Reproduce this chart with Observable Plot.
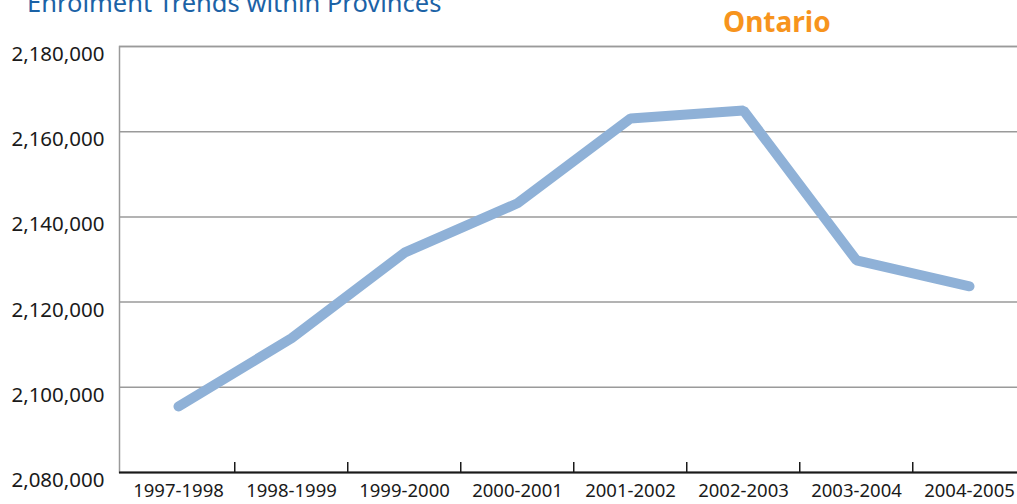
<!DOCTYPE html>
<html>
<head>
<meta charset="utf-8">
<script src="https://cdn.jsdelivr.net/npm/d3@7"></script>
<script src="https://cdn.jsdelivr.net/npm/@observablehq/plot@0.6"></script>
<style>
  html, body { margin: 0; padding: 0; background: #fff; overflow: hidden; }
  #wrap { position: relative; width: 1017px; height: 504px; overflow: hidden; }
  #chart svg { max-width: none !important; }
  #title { position: absolute; left: 27px; top: -11px; font-family: "Noto Sans", sans-serif; font-size: 25.5px; line-height: 26px; color: #1b62a6; white-space: nowrap; }
  #prov { position: absolute; left: 723px; top: 7px; font-family: "Noto Sans", sans-serif; font-weight: 700; font-size: 28px; line-height: 28px; color: #f7941d; white-space: nowrap; }
</style>
</head>
<body>
<div id="wrap">
  <div id="chart"></div>
  <div id="title">Enrolment Trends within Provinces</div>
  <div id="prov">Ontario</div>
</div>
<script>
const years = ["1997-1998", "1998-1999", "1999-2000", "2000-2001", "2001-2002", "2002-2003", "2003-2004", "2004-2005"];
const enrolment = [2095500, 2111500, 2131600, 2143200, 2163100, 2165000, 2129800, 2123700];
const yTicks = [2080000, 2100000, 2120000, 2140000, 2160000, 2180000];

const data = years.map((year, i) => ({year, value: enrolment[i]}));

const W = 1030, ML = 119, MR = 3;
const step = (W - ML - MR) / years.length;

const chart = Plot.plot({
  width: W,
  height: 504,
  marginTop: 46,
  marginBottom: 32,
  marginLeft: ML,
  marginRight: MR,
  style: {fontFamily: "Noto Sans, sans-serif", background: "white", overflow: "visible", maxWidth: "none"},
  x: {type: "point", domain: years, padding: 0.5},
  y: {domain: [2080000, 2180000]},
  marks: [
    Plot.gridY(yTicks, {stroke: "#9a9a9a", strokeOpacity: 1, strokeWidth: 1.5}),
    Plot.frame({stroke: "#9a9a9a", strokeWidth: 1.5}),
    Plot.ruleY([2080000], {stroke: "#1a1a1a", strokeWidth: 2}),
    Plot.axisY(yTicks, {tickSize: 0, tickPadding: 15, tickFormat: d3.format(","), fontSize: 20.5, dy: 8, fill: "#1a1a1a", label: null}),
    Plot.axisX({tickSize: 0, tickPadding: 11, fontSize: 18.5, fill: "#1a1a1a", label: null}),
    Plot.axisX(years.slice(1), {tickSize: -10, tickFormat: () => "", dx: -step / 2, stroke: "#1a1a1a", strokeWidth: 1.5, label: null}),
    Plot.line(data, {x: "year", y: "value", stroke: "#8fb1d7", strokeWidth: 10, strokeLinecap: "round", strokeLinejoin: "miter"})
  ]
});
chart.style.maxWidth = "none";
document.getElementById("chart").appendChild(chart);
</script>
</body>
</html>
